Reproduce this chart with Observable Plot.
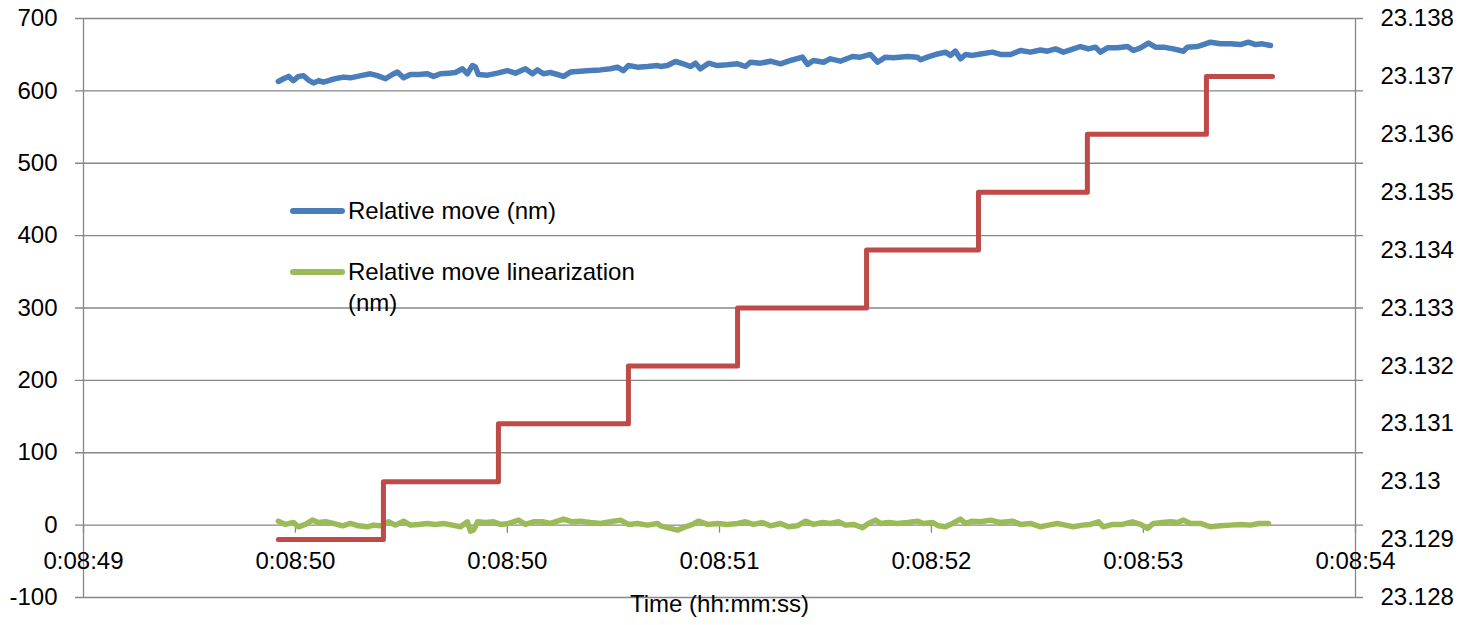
<!DOCTYPE html>
<html><head><meta charset="utf-8">
<script src="https://cdn.jsdelivr.net/npm/d3@7"></script>
<script src="https://cdn.jsdelivr.net/npm/@observablehq/plot@0.6"></script>
<style>
html,body{margin:0;padding:0;background:#fff;}
#wrap{position:relative;width:1460px;height:625px;font-family:"Liberation Sans",Arial,sans-serif;}
.lg{position:absolute;font-size:24px;color:#000;white-space:nowrap;line-height:24px;}
.sw{position:absolute;height:6px;border-radius:3px;}
</style></head>
<body><div id="wrap"></div>
<script>
// x axis (seconds within the minute) and tick labels
const xDomain = [49.012, 54.012];
const xTickTimes = [49.012, 49.845, 50.678, 51.512, 52.345, 53.178, 54.012];
const xTickLabels = ["0:08:49","0:08:50","0:08:50","0:08:51","0:08:52","0:08:53","0:08:54"];
const leftTicks = [-100, 0, 100, 200, 300, 400, 500, 600, 700];
const rightTicks = [23.128, 23.129, 23.130, 23.131, 23.132, 23.133, 23.134, 23.135, 23.136, 23.137, 23.138];
const rightTickLabels = ["23.128","23.129","23.13","23.131","23.132","23.133","23.134","23.135","23.136","23.137","23.138"];

// Relative move (nm)
const blueT = [49.778,49.798,49.818,49.837,49.857,49.877,49.896,49.916,49.936,49.955,49.983,50.010,50.034,50.061,50.089,50.112,50.140,50.167,50.199,50.226,50.246,50.270,50.297,50.329,50.364,50.388,50.415,50.447,50.474,50.502,50.521,50.541,50.553,50.564,50.600,50.639,50.678,50.710,50.749,50.777,50.796,50.820,50.847,50.875,50.899,50.926,50.965,51.005,51.044,51.083,51.111,51.134,51.154,51.189,51.229,51.268,51.280,51.307,51.339,51.370,51.398,51.417,51.437,51.469,51.504,51.543,51.583,51.614,51.634,51.673,51.712,51.752,51.791,51.838,51.858,51.881,51.921,51.948,51.987,52.035,52.066,52.105,52.133,52.164,52.196,52.251,52.290,52.302,52.329,52.369,52.400,52.420,52.439,52.459,52.479,52.506,52.538,52.585,52.616,52.656,52.695,52.734,52.774,52.801,52.833,52.864,52.903,52.931,52.962,52.990,53.009,53.037,53.076,53.116,53.139,53.167,53.198,53.226,53.257,53.296,53.336,53.351,53.391,53.414,53.442,53.481,53.520,53.560,53.591,53.619,53.646,53.678];
const blueV = [613,616.7,620,614,620,621,615,611,614,612,615,617.5,619,618,620,621.7,623.6,621,616.7,622.6,626,618,622.6,622.6,623.6,620,623.6,624.5,625.4,630.5,623.6,635,632.8,622.6,621.7,624.5,628,624.5,630.5,623.6,629,623.6,625.4,622.6,620,626,627,628,629,630.5,632.8,628,635,632.8,633.7,635,633.7,635,640.6,637.4,633.7,638.3,630.5,638.3,635,636,637.4,633.7,639.6,638.3,641,637.4,642,646.6,636.5,642,639.6,644.3,641,647.5,646.6,650.3,639.6,646.6,645.7,647.5,646.6,643,646.6,651,653.5,649,655,644.3,650.3,649,651,653.5,650.3,650.3,655.8,653.5,656.5,654.8,658,653.5,658,661.3,658,660.4,653.5,659.5,659.5,661.3,655.8,659.5,666,660.4,660.4,658,654.8,660.4,661.3,664,667.3,665,665,664,667.3,664,665,662.7];

// Relative move linearization (nm)
const greenT = [49.778,49.806,49.837,49.857,49.884,49.912,49.936,49.963,49.994,50.030,50.061,50.093,50.128,50.152,50.179,50.211,50.238,50.270,50.297,50.329,50.364,50.395,50.427,50.462,50.494,50.521,50.533,50.545,50.561,50.592,50.623,50.651,50.682,50.722,50.749,50.781,50.816,50.847,50.875,50.899,50.934,50.965,51.005,51.044,51.083,51.123,51.154,51.189,51.229,51.268,51.280,51.311,51.347,51.378,51.406,51.429,51.465,51.504,51.543,51.583,51.614,51.645,51.681,51.712,51.752,51.783,51.818,51.850,51.881,51.917,51.948,51.980,52.007,52.039,52.074,52.097,52.125,52.145,52.176,52.211,52.251,52.290,52.314,52.349,52.373,52.400,52.428,52.459,52.479,52.506,52.538,52.577,52.616,52.664,52.695,52.734,52.774,52.805,52.840,52.872,52.903,52.939,52.970,53.002,53.021,53.057,53.096,53.135,53.167,53.194,53.218,53.253,53.285,53.312,53.336,53.363,53.403,53.442,53.481,53.520,53.560,53.599,53.631,53.670];
const greenV = [5.5,1,3.7,-2.3,1,6.9,3.7,4.6,2.3,-1,2.3,-1,-2.3,0,-1,4.6,0,5.5,0,1,2.3,1,2.3,0,-2.3,4.6,-8.3,-6.9,4.6,3.7,4.6,1,2.3,6.9,1,4.6,4.6,2.3,5.5,8.3,4.6,5.5,3.7,2.3,4.6,6.9,1,2.3,0,2.3,-1,-3.7,-6.9,-2.3,1,5.5,1,2.3,1,2.3,4.6,1,3.7,-1,2.3,-2.3,-1,5.5,1,3.7,2.3,4.6,0,1,-3.7,2.3,6.9,2.3,3.7,2.3,3.7,5.5,2.3,3.7,-1,-2.3,2.3,8.3,2.3,5.5,4.6,6.9,3.7,5.5,1,2.3,-2.3,0,2.3,0,-2.3,0,1,4.6,-2.3,1,1,4.6,1,-4.6,2.3,3.7,4.6,3.7,6.9,2.3,2.3,-2.3,-1,0,1,0,2.3,2.3];

// Red step series (right axis)
const redT = [49.778,50.191,50.643,51.154,51.583,52.090,52.530,52.958,53.426,53.686];
const redV = [23.129,23.130,23.131,23.132,23.133,23.134,23.135,23.136,23.137,23.137];

// right axis value -> left axis units
const toLeft = v => -100 + (v - 23.128) * 80000;
const rightPos = rightTicks.map(toLeft);

const blue = blueT.map((t,i)=>({t, v:blueV[i]}));
const green = greenT.map((t,i)=>({t, v:greenV[i]}));
const red = redT.map((t,i)=>({t, v:toLeft(redV[i])}));

const gray = "#878787";
const chart = Plot.plot({
  width:1460, height:625,
  marginLeft:83, marginRight:105, marginTop:18, marginBottom:28,
  style:{fontFamily:"'Liberation Sans', Arial, sans-serif", fontSize:"24px", color:"#000", background:"#fff", overflow:"visible"},
  x:{domain:xDomain, axis:null},
  y:{domain:[-100,700], axis:null},
  marks:[
    Plot.ruleY(leftTicks, {stroke:gray, strokeWidth:1.3, insetLeft:-8, insetRight:-8}),
    Plot.ruleX([xDomain[0], xDomain[1]], {stroke:gray, strokeWidth:1.3}),
    Plot.ruleX(xTickTimes, {y1:0, y2:0, insetBottom:-8, stroke:gray, strokeWidth:1.3}),
    Plot.text(leftTicks, {y:d=>d, frameAnchor:"left", dx:-26, textAnchor:"end", text:d=>String(d), fill:"#000"}),
    Plot.text(rightPos, {y:d=>d, frameAnchor:"right", dx:25, textAnchor:"start", text:(d,i)=>rightTickLabels[i], fill:"#000"}),
    Plot.text(xTickTimes, {x:d=>d, y:0, dy:36, text:(d,i)=>xTickLabels[i], fill:"#000"}),
    Plot.text(["Time (hh:mm:ss)"], {frameAnchor:"bottom", dy:14, fill:"#000"}),
    Plot.line(blue, {x:"t", y:"v", stroke:"#4A7EBB", strokeWidth:5.5, strokeLinejoin:"round", strokeLinecap:"round"}),
    Plot.line(green, {x:"t", y:"v", stroke:"#9BBB59", strokeWidth:5.5, strokeLinejoin:"round", strokeLinecap:"round"}),
    Plot.line(red, {x:"t", y:"v", curve:"step-after", stroke:"#BE4B48", strokeWidth:5, strokeLinejoin:"round", strokeLinecap:"round"})
  ]
});
const wrap = document.getElementById("wrap");
wrap.appendChild(chart);
const legend = [
  {color:"#4A7EBB", lines:["Relative move (nm)"], y:211},
  {color:"#9BBB59", lines:["Relative move linearization","(nm)"], y:272}
];
legend.forEach(it=>{
  const sw=document.createElement("div");
  sw.className="sw"; sw.style.background=it.color;
  sw.style.left="290px"; sw.style.width="55px"; sw.style.top=(it.y-3)+"px";
  wrap.appendChild(sw);
  it.lines.forEach((s,j)=>{
    const d=document.createElement("div");
    d.className="lg"; d.textContent=s;
    d.style.left="348px"; d.style.top=(it.y-12+j*31)+"px";
    wrap.appendChild(d);
  });
});
</script></body></html>
